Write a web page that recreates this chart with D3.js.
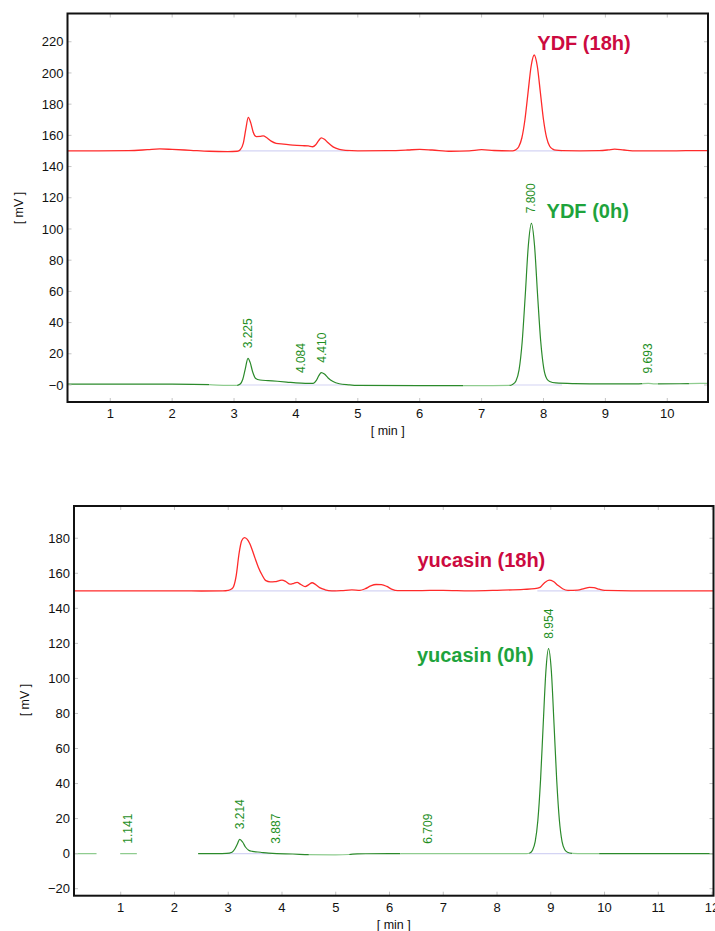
<!DOCTYPE html>
<html><head><meta charset="utf-8">
<script src="https://cdn.jsdelivr.net/npm/d3@7"></script>
<style>body{margin:0;background:#fff}svg{display:block}</style>
</head><body>
<svg id="c" width="715" height="931"></svg>
<script>
// ---------------- DATA ----------------
// Top panel (YDF)
const topXDomain = [0.309, 10.658];
const topYDomain = [-10.9, 238.1];
const topXTicks = [1,2,3,4,5,6,7,8,9,10];
const topYTicks = [0,20,40,60,80,100,120,140,160,180,200,220];
const topYTickLabels = ["\u22120","20","40","60","80","100","120","140","160","180","200","220"];

const ydf18 = [[0.31,150.1],[0.8,150.1],[1.3,150.2],[1.6,150.8],[1.8,151.3],[2.0,151],[2.3,150.4],[2.6,149.8],[2.9,149.6],[3.05,149.8],[3.1,150.8],[3.15,155],[3.19,164],[3.23,171.5],[3.27,168],[3.31,162],[3.36,159.2],[3.42,159.3],[3.47,159.7],[3.53,158.5],[3.6,156.3],[3.68,154.9],[3.8,154.4],[3.95,153.8],[4.1,153.4],[4.2,153.2],[4.27,152.7],[4.32,154],[4.37,156.8],[4.41,158.4],[4.46,157.5],[4.52,155.2],[4.6,152.6],[4.7,151],[4.8,150.4],[5.0,150.1],[5.5,150.2],[5.8,150.6],[6.0,151],[6.2,150.6],[6.5,149.8],[6.8,150.1],[7.0,150.8],[7.2,150.3],[7.5,150.1],[7.55,150.7],[7.6,152.7],[7.65,158.3],[7.7,170],[7.75,187.3],[7.8,204.3],[7.85,211.5],[7.9,204.3],[7.95,187.3],[8.0,170],[8.05,158.5],[8.1,153],[8.15,151.2],[8.2,150.5],[8.3,150.2],[8.6,150.1],[8.9,150.2],[9.05,150.7],[9.15,151.2],[9.3,150.6],[9.5,150],[10.0,150],[10.3,150.2],[10.67,150.2]];

const ydf0 = [[0.31,0.6],[1.0,0.6],[2.0,0.5],[2.6,0.2],[2.9,-0.3],[3.05,-0.2],[3.1,0.6],[3.14,3.5],[3.18,10],[3.225,17.1],[3.26,14.5],[3.3,8.5],[3.35,4.2],[3.42,3.2],[3.55,2.8],[3.7,2.4],[3.85,1.9],[4.0,1.3],[4.15,1.0],[4.28,1.1],[4.33,3],[4.37,6],[4.41,7.9],[4.46,7],[4.52,4.5],[4.6,2.2],[4.7,0.8],[4.85,0.1],[5.0,-0.3],[6.0,-0.4],[7.0,-0.4],[7.45,-0.3],[7.5,0.3],[7.555,2.6],[7.605,9.7],[7.655,27.4],[7.705,57.4],[7.755,89.4],[7.805,103.6],[7.855,89.4],[7.905,57.4],[7.955,28],[8.005,10.5],[8.055,3.8],[8.1,2.2],[8.2,1.3],[8.5,0.9],[9.0,0.7],[9.5,0.7],[9.693,1.0],[9.8,0.7],[10.2,0.8],[10.67,1.1]];

const ydf18Segments = [["main",0.3,10.7]];
const ydf0Segments = [["main",0.3,2.6],["faint",2.6,3.05],["main",3.05,6.7],["faint",6.7,7.45],["main",7.45,9.6],["faint",9.6,9.85],["main",9.85,10.35],["faint",10.35,10.7]];
const ydf18Baselines = [[3.07,4.85],[7.55,8.3]];
const ydf0Baselines = [[3.07,4.8],[7.5,8.3]];

const topPeakTimes = [3.225,4.084,4.410,7.800,9.693];
const topPeakLabels = ["3.225","4.084","4.410","7.800","9.693"];
const topPeakHeights = [17.1,1.2,7.9,103.6,1.0];

// Bottom panel (yucasin)
const botXDomain = [0.131, 12.027];
const botYDomain = [-24.0, 198.4];
const botXTicks = [1,2,3,4,5,6,7,8,9,10,11,12];
const botYTicks = [-20,0,20,40,60,80,100,120,140,160,180];
const botYTickLabels = ["\u221220","0","20","40","60","80","100","120","140","160","180"];

const yuc18 = [[0.13,150],[1.0,150],[2.0,150],[2.5,149.9],[2.9,150],[3.0,150.3],[3.06,151],[3.1,152.5],[3.15,159],[3.2,171],[3.25,178.5],[3.3,180.3],[3.35,179.5],[3.4,177],[3.45,173],[3.5,168.5],[3.56,163.5],[3.63,159],[3.7,155.8],[3.78,155.1],[3.87,155.2],[3.95,155.8],[4.0,156.1],[4.07,155.3],[4.15,153.8],[4.22,154.3],[4.28,154.8],[4.35,153.6],[4.43,152.4],[4.5,153.5],[4.56,154.6],[4.62,153.7],[4.7,151.8],[4.8,150.6],[4.93,150],[5.1,150.1],[5.3,150.5],[5.45,150.3],[5.55,151.2],[5.65,152.8],[5.75,153.6],[5.85,153.5],[5.95,152.5],[6.05,150.8],[6.15,150.1],[6.5,150.1],[7.0,150.3],[7.5,150],[8.0,150.3],[8.5,150.8],[8.7,151.2],[8.8,152],[8.88,154.5],[8.97,156.1],[9.05,155.3],[9.13,153.2],[9.22,151.2],[9.32,150.3],[9.5,150.4],[9.62,151.3],[9.72,152],[9.8,151.8],[9.9,150.9],[10.0,150.2],[10.5,150],[11.0,150],[12.03,150]];

const yuc0 = [[0.13,0],[1.0,0],[2.0,0],[2.44,0],[2.8,0],[2.97,0.1],[3.07,0.8],[3.12,2.5],[3.17,5.5],[3.214,8.2],[3.27,6.5],[3.32,3.8],[3.38,2],[3.45,1.3],[3.6,0.8],[3.75,0.3],[3.9,0],[4.2,-0.2],[4.5,-0.6],[5.0,-0.7],[5.25,-0.5],[5.4,-0.1],[6.0,0],[7.0,0],[8.0,0],[8.55,0],[8.61,0.4],[8.66,2],[8.71,6.9],[8.76,19.1],[8.81,42.2],[8.86,74.3],[8.91,104.5],[8.958,117],[9.01,104.5],[9.06,74.3],[9.11,42.2],[9.16,19.1],[9.21,6.9],[9.26,2.2],[9.31,0.8],[9.4,0.2],[9.6,0],[10,0],[11,0],[12.03,0]];

const yuc18Segments = [["main",0.1,12.1]];
const yuc0Segments = [["faint",0.13,0.55],["faint",0.99,1.3],["main",2.44,4.5],["faint",4.5,5.25],["main",5.25,6.2],["faint",6.2,8.6],["main",8.6,9.4],["faint",9.4,9.9],["main",9.9,12.1]];
const yuc18Baselines = [[3.0,5.0],[5.5,6.1],[8.75,9.35],[9.45,10.0]];
const yuc0Baselines = [[2.95,3.8],[8.6,9.4]];

const botPeakTimes = [1.141,3.214,3.887,6.709,8.954];
const botPeakLabels = ["1.141","3.214","3.887","6.709","8.954"];
const botPeakHeights = [0,8.2,0,0,117];

// ---------------- DRAW ----------------
const RED = "#ff2a2a", GREEN = "#2b8a2b", FAINT = "#8fcc8f", BASE = "#d4d4f4";
const LABEL_GREEN = "#1f8f1f", ANN_RED = "#cc0a40", ANN_GREEN = "#1ea33c";
const FONT = "'Liberation Sans', Arial, sans-serif";
const svg = d3.select("#c");
let clipId = 0;

function panel(cfg) {
  const x = d3.scaleLinear().domain(cfg.xDomain).range([cfg.left, cfg.right]);
  const y = d3.scaleLinear().domain(cfg.yDomain).range([cfg.bottom, cfg.top]);
  const g = svg.append("g");
  const pid = "pc" + (clipId++);
  svg.append("clipPath").attr("id", pid).append("rect")
    .attr("x", cfg.left).attr("y", cfg.top).attr("width", cfg.right - cfg.left).attr("height", cfg.bottom - cfg.top);
  const plot = g.append("g").attr("clip-path", `url(#${pid})`);

  // inner light ticks
  const tk = g.append("g").attr("stroke", "#c4c4c4").attr("stroke-width", 1);
  cfg.xTicks.forEach(t => {
    tk.append("line").attr("x1", x(t)).attr("x2", x(t)).attr("y1", cfg.top).attr("y2", cfg.top + 4);
    tk.append("line").attr("x1", x(t)).attr("x2", x(t)).attr("y1", cfg.bottom).attr("y2", cfg.bottom - 4);
  });
  cfg.yTicks.forEach(t => {
    tk.append("line").attr("x1", cfg.left).attr("x2", cfg.left + 4).attr("y1", y(t)).attr("y2", y(t));
    tk.append("line").attr("x1", cfg.right).attr("x2", cfg.right - 4).attr("y1", y(t)).attr("y2", y(t));
  });

  // integration baselines
  cfg.traces.forEach(tr => {
    tr.baselines.forEach(b => {
      plot.append("line").attr("x1", x(b[0])).attr("x2", x(b[1]))
        .attr("y1", y(tr.base)).attr("y2", y(tr.base))
        .attr("stroke", BASE).attr("stroke-width", 1.2);
    });
  });

  const line = d3.line().x(d => x(d[0])).y(d => y(d[1])).curve(d3.curveMonotoneX);
  cfg.traces.forEach(tr => {
    tr.segments.forEach(s => {
      const id = "sc" + (clipId++);
      svg.append("clipPath").attr("id", id).append("rect")
        .attr("x", x(s[1])).attr("y", cfg.top).attr("width", x(s[2]) - x(s[1])).attr("height", cfg.bottom - cfg.top);
      plot.append("path").datum(tr.data).attr("d", line)
        .attr("clip-path", `url(#${id})`)
        .attr("fill", "none")
        .attr("stroke", s[0] === "main" ? tr.color : FAINT)
        .attr("stroke-width", tr.width);
    });
  });

  // peak labels
  cfg.peakTimes.forEach((t, i) => {
    const px = x(t), py = y(cfg.peakHeights[i]) - 10;
    g.append("text").attr("transform", `translate(${px},${py}) rotate(-90)`)
      .attr("dy", "0.35em").attr("text-anchor", "start")
      .attr("font-family", FONT).attr("font-size", 12).attr("fill", LABEL_GREEN)
      .text(cfg.peakLabels[i]);
  });

  // annotations
  cfg.annotations.forEach(a => {
    g.append("text").attr("x", x(a.t)).attr("y", y(a.v))
      .attr("font-family", FONT).attr("font-weight", "bold").attr("font-size", 20)
      .attr("fill", a.color).text(a.text);
  });

  // frame
  g.append("rect").attr("x", cfg.left).attr("y", cfg.top)
    .attr("width", cfg.right - cfg.left).attr("height", cfg.bottom - cfg.top)
    .attr("fill", "none").attr("stroke", "#111").attr("stroke-width", 2);

  // tick labels
  cfg.xTicks.forEach(t => {
    g.append("text").attr("x", x(t)).attr("y", cfg.bottom + 16)
      .attr("text-anchor", "middle").attr("font-family", FONT).attr("font-size", 13).attr("fill", "#111").text(t);
  });
  cfg.yTicks.forEach((t, i) => {
    g.append("text").attr("x", cfg.left - 4).attr("y", y(t)).attr("dy", "0.36em")
      .attr("text-anchor", "end").attr("font-family", FONT).attr("font-size", 13).attr("fill", "#111").text(cfg.yTickLabels[i]);
  });

  // axis titles
  g.append("text").attr("x", (cfg.left + cfg.right) / 2).attr("y", cfg.bottom + 33)
    .attr("text-anchor", "middle").attr("font-family", FONT).attr("font-size", 12.5).attr("fill", "#111").text("[ min ]");
  g.append("text").attr("transform", `translate(${cfg.yTitleX},${cfg.yTitleY}) rotate(-90)`)
    .attr("text-anchor", "middle").attr("dy", "0.35em").attr("font-family", FONT).attr("font-size", 12.5).attr("fill", "#111").text("[ mV ]");
}

panel({
  left: 67.5, right: 708, top: 13.5, bottom: 402,
  xDomain: topXDomain, yDomain: topYDomain, xTicks: topXTicks, yTicks: topYTicks, yTickLabels: topYTickLabels,
  traces: [
    {data: ydf0, segments: ydf0Segments, baselines: ydf0Baselines, base: 0, color: GREEN, width: 1.2},
    {data: ydf18, segments: ydf18Segments, baselines: ydf18Baselines, base: 150, color: RED, width: 1.3}
  ],
  peakTimes: topPeakTimes, peakLabels: topPeakLabels, peakHeights: topPeakHeights,
  annotations: [
    {text: "YDF (18h)", t: 7.9, v: 215, color: ANN_RED},
    {text: "YDF (0h)", t: 8.05, v: 107, color: ANN_GREEN}
  ],
  yTitleX: 19, yTitleY: 208
});

panel({
  left: 74, right: 713.5, top: 506, bottom: 895.7,
  xDomain: botXDomain, yDomain: botYDomain, xTicks: botXTicks, yTicks: botYTicks, yTickLabels: botYTickLabels,
  traces: [
    {data: yuc0, segments: yuc0Segments, baselines: yuc0Baselines, base: 0, color: GREEN, width: 1.2},
    {data: yuc18, segments: yuc18Segments, baselines: yuc18Baselines, base: 150, color: RED, width: 1.3}
  ],
  peakTimes: botPeakTimes, peakLabels: botPeakLabels, peakHeights: botPeakHeights,
  annotations: [
    {text: "yucasin (18h)", t: 6.52, v: 163.6, color: ANN_RED},
    {text: "yucasin (0h)", t: 6.51, v: 109.2, color: ANN_GREEN}
  ],
  yTitleX: 25, yTitleY: 700
});
</script>
</body></html>
